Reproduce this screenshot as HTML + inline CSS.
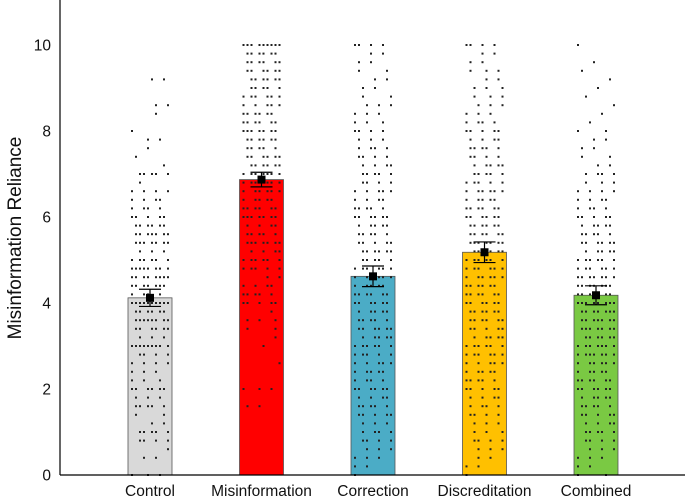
<!DOCTYPE html>
<html><head><meta charset="utf-8"><style>
html,body{margin:0;padding:0;background:#fff;}
svg{display:block;font-family:"Liberation Sans",Arial,sans-serif;}
</style></head><body>
<svg id="chart" width="685" height="498" viewBox="0 0 685 498">
<g id="marks"></g>
<line x1="60" y1="0" x2="60" y2="475" stroke="#000" stroke-width="1.2"/>
<line x1="60" y1="475" x2="685" y2="475" stroke="#000" stroke-width="1.2"/>
<g id="yticks"></g><g id="xlabels"></g>
<text x="0" y="0" transform="translate(21,238) rotate(-90)" text-anchor="middle" font-size="19" fill="#111">Misinformation Reliance</text>
</svg>
<script>
const categories=["Control","Misinformation","Correction","Discreditation","Combined"];
const means=[4.12,6.87,4.62,5.18,4.18];
const errors=[0.2,0.17,0.24,0.24,0.22];
const colors=["#d9d9d9","#ff0000","#4bacc6","#ffc000","#7ac943"];
const yTicks=[0,2,4,6,8,10];
// dot counts at levels 0,0.2,...,10
const countsControl=[3,0,2,1,4,5,2,2,5,3,6,3,3,4,4,9,3,6,8,6,10,4,7,8,8,6,3,7,7,6,5,4,4,4,1,5,1,1,1,2,1,0,1,2,0,0,2,0,0,0,0];
const countsMisinfo=[0,0,0,0,0,0,0,0,2,0,3,0,0,1,0,1,1,2,3,1,5,5,4,2,5,6,4,7,5,4,7,6,5,6,6,7,6,6,5,6,7,6,6,5,6,5,6,6,6,6,9];
const countsCorrection=[1,2,3,3,4,4,3,5,5,4,6,4,5,5,5,6,5,6,5,5,6,6,5,6,6,5,6,5,5,5,6,5,4,5,4,5,4,4,4,3,4,3,3,3,2,2,2,2,2,2,4];
const countsDiscred=[1,2,2,3,4,3,3,4,4,4,5,5,5,5,6,6,5,5,6,6,6,6,6,6,6,6,6,7,6,6,6,6,5,6,5,5,5,4,5,4,5,4,3,3,3,3,2,3,2,2,4];
const countsCombined=[2,2,3,3,4,5,4,5,5,5,6,6,5,6,7,7,6,7,7,7,8,6,7,7,6,6,5,6,5,5,5,4,4,4,3,4,2,2,2,2,2,1,1,1,1,1,1,1,1,0,1];
const allCounts=[countsControl,countsMisinfo,countsCorrection,countsDiscred,countsCombined];
const NS="http://www.w3.org/2000/svg";
const y=v=>475-v*43;
const xc=i=>150+i*111.5;
const bw=44;
const marks=document.getElementById("marks");
function mk(t,a,p){const e=document.createElementNS(NS,t);for(const k in a)e.setAttribute(k,a[k]);(p||marks).appendChild(e);return e;}
categories.forEach((c,i)=>{
  const r=mk("rect",{x:xc(i)-bw/2,y:y(means[i]),width:bw,height:475-y(means[i]),fill:colors[i],stroke:"#555","stroke-width":0.8});
  
  
});
allCounts.forEach((arr,i)=>{
  arr.forEach((n,l)=>{
    for(let k=0;k<n;k++){
      const off=((k*7+l*3)%10)*4-18;
      const d=mk("rect",{x:xc(i)+off-1,y:y(l*0.2)-1,width:2,height:2,fill:"#222"});
      
      
    }
  });
});
categories.forEach((c,i)=>{
  const g=mk("g",{stroke:"#000","stroke-width":1.2});
  
  
  const x=xc(i),hi=y(means[i]+errors[i]),lo=y(means[i]-errors[i]);
  mk("line",{x1:x,x2:x,y1:hi,y2:lo},g);
  mk("line",{x1:x-11,x2:x+11,y1:hi,y2:hi},g);
  mk("line",{x1:x-11,x2:x+11,y1:lo,y2:lo},g);
  const m=mk("rect",{x:x-4,y:y(means[i])-4,width:8,height:8,fill:"#000"});
  
  
  const t=mk("text",{x:x,y:496,"text-anchor":"middle","font-size":15.5,fill:"#111"},document.getElementById("xlabels"));
  t.textContent=c;
  
  
});
yTicks.forEach(v=>{
  const t=mk("text",{x:51,y:y(v)+5.5,"text-anchor":"end","font-size":15.5,fill:"#111"},document.getElementById("yticks"));
  t.textContent=v;
  
  
});
</script>
</body></html>
